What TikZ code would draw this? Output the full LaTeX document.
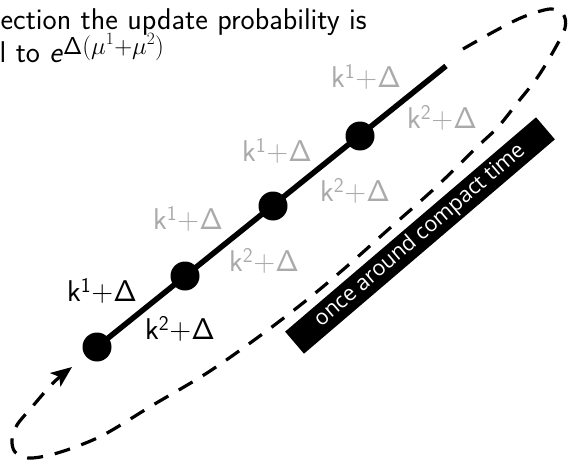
\documentclass[tikz,border=0pt]{standalone}
\usepackage{fontspec}
\usepackage{amsmath}
\usetikzlibrary{arrows.meta}
\newfontfamily\bandfont{Open Sans}
\definecolor{lblgray}{RGB}{170,170,170}
\tikzset{
  dotnode/.style={circle,fill=black,minimum size=29pt,inner sep=0pt},
  klabel/.style={font=\sffamily\fontsize{30}{34}\selectfont,inner sep=0pt},
  ghost/.style={klabel,text=lblgray},
  mainline/.style={line width=5.5pt},
  looppath/.style={line width=3.2pt,dash pattern=on 16pt off 12pt},
  banner/.style={fill=black,text=white,font=\bandfont\fontsize{21.5}{26}\selectfont,
    minimum width=330pt,minimum height=29pt,inner sep=0pt,rotate=40.5},
  toptext/.style={font=\sffamily\fontsize{30}{34}\selectfont,inner sep=0pt,anchor=base west}
}
\begin{document}
\begin{tikzpicture}[x=1pt,y=-1pt]
\useasboundingbox (0,0) rectangle (568,463);
\clip (0,0) rectangle (568,463);
% top text
\node[toptext] (t1) at (0.5,29.3) {ection the update probability is};
\node[toptext] (t2) at (-0.5,62.5) {l to \textsl{e}\raisebox{8.5pt}{\fontsize{24.5}{28}\selectfont Δ$(\mu^{1}{+}\mu^{2})$}};
% dots and line
\coordinate (p1) at (97,347);
\coordinate (p2) at (185,276);
\coordinate (p3) at (273,206);
\coordinate (p4) at (360,136);
\coordinate (lend) at (446,66);
\draw[mainline] (p1) -- (lend);
\node[dotnode] (d1) at (p1) {};
\node[dotnode] (d2) at (p2) {};
\node[dotnode] (d3) at (p3) {};
\node[dotnode] (d4) at (p4) {};
% labels
\node[klabel] (a1) at (102,291) {k\textsuperscript{1}+Δ};
\node[klabel] (b1) at (180,329) {k\textsuperscript{2}+Δ};
\node[ghost] (a2) at (188,219) {k\textsuperscript{1}+Δ};
\node[ghost] (b2) at (264,261) {k\textsuperscript{2}+Δ};
\node[ghost] (a3) at (277,151) {k\textsuperscript{1}+Δ};
\node[ghost] (b3) at (355,191) {k\textsuperscript{2}+Δ};
\node[ghost] (a4) at (366,77) {k\textsuperscript{1}+Δ};
\node[ghost] (b4) at (442,118) {k\textsuperscript{2}+Δ};
% dashed loop
\draw[looppath,-{Stealth[length=21pt,width=17pt,inset=5pt]}] plot[smooth,tension=0.55] coordinates {
 (463,49) (495,31) (523,17) (550,9) (563,14) (565,28) (553,52) (537,78) (518,102)
 (498,127) (477,147) (435,188) (390,228) (345,268) (303,303) (257,338) (207,373)
 (153,405) (107,433) (78,446) (50,455) (28,458) (15,452) (12,440) (17,425)
 (32,407) (53,383) (72,367)};
% banner
\node[banner] (band) at (420,235.5) {once around compact time};
\end{tikzpicture}
\end{document}
